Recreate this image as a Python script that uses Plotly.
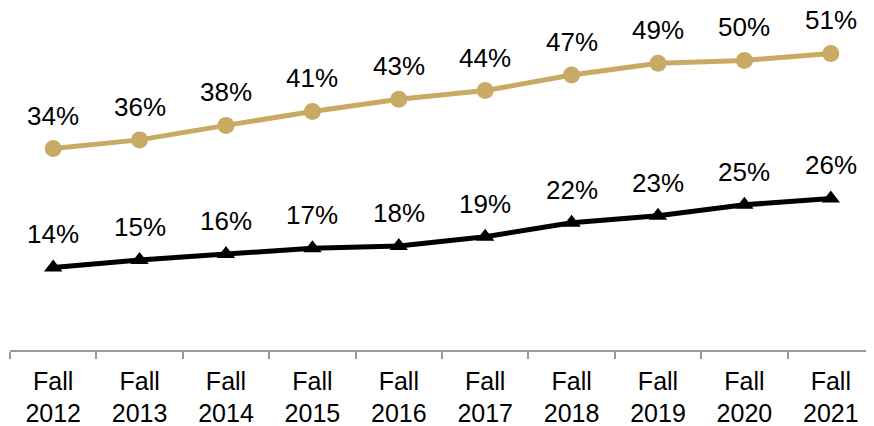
import plotly.graph_objects as go

terms = ["Fall<br>2012", "Fall<br>2013", "Fall<br>2014", "Fall<br>2015", "Fall<br>2016",
         "Fall<br>2017", "Fall<br>2018", "Fall<br>2019", "Fall<br>2020", "Fall<br>2021"]
gold_vals = [34.4, 35.9, 38.4, 40.8, 42.9, 44.4, 47.1, 49.1, 49.6, 50.8]
gold_labels = ["34%", "36%", "38%", "41%", "43%", "44%", "47%", "49%", "50%", "51%"]
black_vals = [13.9, 15.2, 16.2, 17.2, 17.6, 19.2, 21.6, 22.8, 24.7, 25.8]
black_labels = ["14%", "15%", "16%", "17%", "18%", "19%", "22%", "23%", "25%", "26%"]

GOLD = "#C8AA64"
FONT = "Liberation Sans, Arial, sans-serif"

fig = go.Figure()
fig.add_trace(go.Scatter(x=terms, y=gold_vals, mode="lines+markers",
                         line=dict(color=GOLD, width=5),
                         marker=dict(symbol="circle", size=17, color=GOLD)))
fig.add_trace(go.Scatter(x=terms, y=black_vals, mode="lines+markers",
                         line=dict(color="black", width=5),
                         marker=dict(symbol="triangle-up", size=16, color="black")))

# value labels above each point
for vals, labels in [(gold_vals, gold_labels), (black_vals, black_labels)]:
    for t, v, lab in zip(terms, vals, labels):
        fig.add_annotation(x=t, y=v, text=lab, showarrow=False, yshift=33,
                           font=dict(size=26, color="black", family=FONT))

# page body has an 8px margin, so the figure is sized to fit the window
fig.update_layout(
    width=866, height=418,
    margin=dict(l=2, r=0, t=2, b=76, autoexpand=False),
    plot_bgcolor="white", paper_bgcolor="white",
    showlegend=False,
    font=dict(family=FONT, color="black"),
)
fig.update_xaxes(type="category", range=[-0.5, 9.5], tickson="boundaries",
                 ticks="outside", ticklen=7, ticklabelstandoff=8,
                 tickcolor="#999999", tickwidth=1.5, automargin=False,
                 showline=True, linecolor="#999999", linewidth=1.5,
                 showgrid=False, tickfont=dict(size=25, color="black"))
fig.update_yaxes(range=[-0.34, 58.3], visible=False, showgrid=False, zeroline=False,
                 automargin=False)

fig.write_html("out.html")
